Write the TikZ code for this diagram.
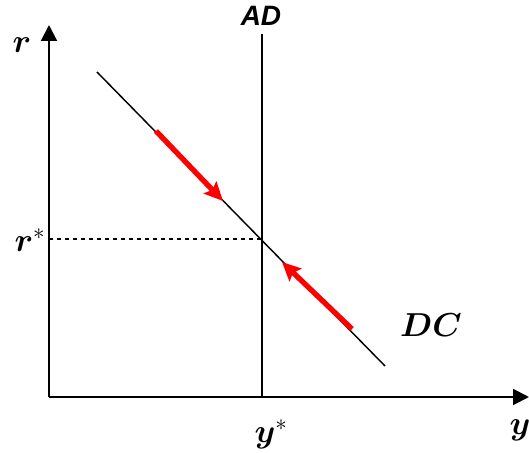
\documentclass[tikz,border=0pt]{standalone}
\usepackage{amsmath}
\usepackage{amssymb}
\usepackage{fontspec}
\newfontfamily\labelsans{Liberation Sans}
\usetikzlibrary{arrows.meta, positioning}

\begin{document}
\begin{tikzpicture}[
    x=0.75pt, y=-0.75pt,
    axis/.style={line width=1.5pt, -{Triangle[length=12pt, width=12pt]}},
    curve/.style={line width=1.1pt},
    push/.style={red, line width=4pt, -{Stealth[length=14pt, width=13pt, inset=2.5pt]}},
    lbl/.style={font=\fontsize{23}{27}\selectfont, inner sep=0pt}
]
\useasboundingbox (0,0) rectangle (529,453);
% Axes
\coordinate (O) at (49,397);
\coordinate (ytop) at (49,25);
\coordinate (xend) at (529,397);
\draw[axis] (O) -- (ytop);
\draw[axis] (O) -- (xend);
% AD and DC schedules
\coordinate (adtop) at (262,34);
\coordinate (adbot) at (262,397);
\draw[line width=1.4pt] (adtop) -- (adbot);
\coordinate (dcstart) at (97,72);
\coordinate (dcend) at (385,366);
\draw[curve] (dcstart) -- (dcend);
% Equilibrium
\coordinate (E) at (262,239);
\draw[dashed, line width=0.9pt] (O |- E) -- (E);
% Adjustment arrows
\coordinate (p1) at (156,131);
\coordinate (q1) at (223,201);
\coordinate (p2) at (352,329);
\coordinate (q2) at (282,262);
\draw[push] (p1) -- (q1);
\draw[push] (p2) -- (q2);
% Labels
\node[lbl] (rlab) at (22,45) {$\boldsymbol{r}$};
\node[lbl] (rstar) at (30,240) {$\boldsymbol{r}^{*}$};
\node[lbl] (ystar) at (271,434) {$\boldsymbol{y}^{*}$};
\node[lbl] (ylab) at (520,430) {$\boldsymbol{y}$};
\node[lbl, font=\labelsans\bfseries\itshape\fontsize{21}{25}\selectfont] (adlab) at (261,16) {AD};
\node[lbl] (dclab) at (431,325) {$\boldsymbol{DC}$};
\end{tikzpicture}
\end{document}
